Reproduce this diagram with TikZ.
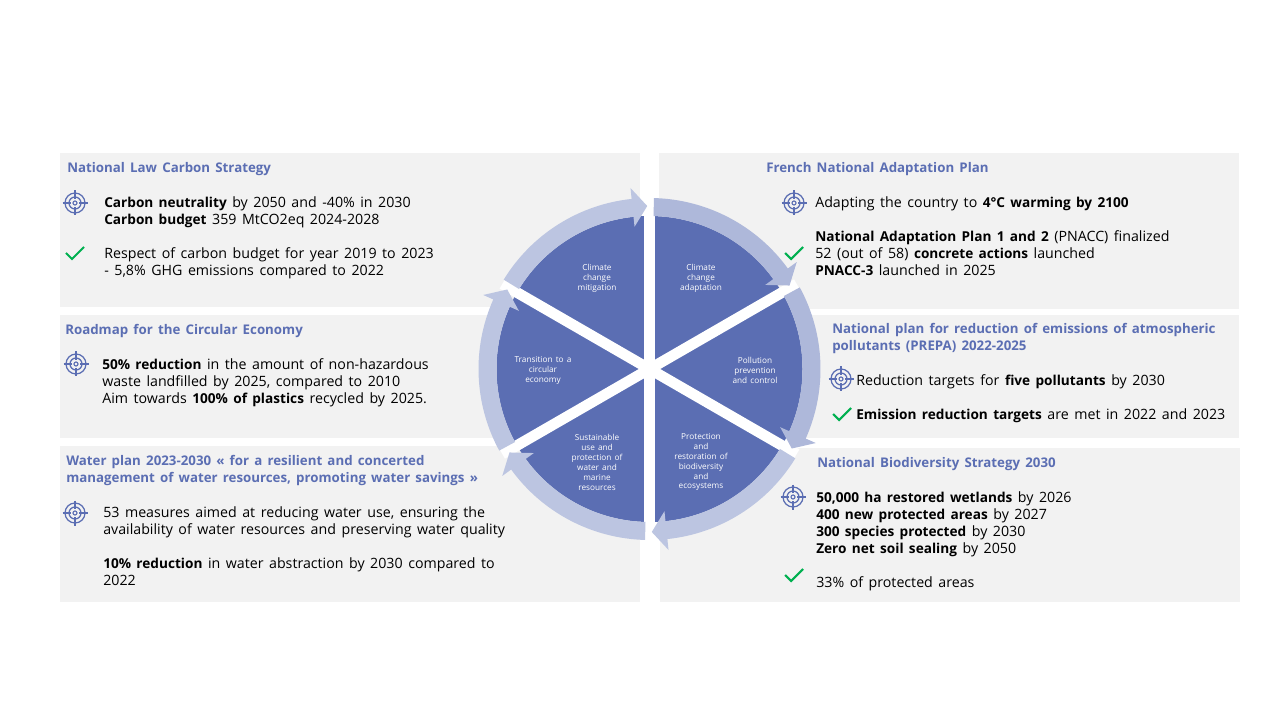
\documentclass[tikz,border=0pt]{standalone}
\usepackage{fontspec}
\setmainfont{Open Sans}[WordSpace=1.5, BoldFeatures={Scale=0.96}]
\usepackage{tikz}

\definecolor{panelgrey}{HTML}{F2F2F2}
\definecolor{wheelblue}{HTML}{5B6EB3}
\definecolor{ringlight}{HTML}{BCC5E1}
\definecolor{ringdark}{HTML}{AEB8DA}
\definecolor{checkgreen}{HTML}{00B050}

\tikzset{
	panelbox/.style={fill=panelgrey, anchor=north west, inner sep=0pt, minimum width=14.5cm},
	titletext/.style={anchor=north west, inner sep=0pt, align=left, text=wheelblue, font=\fontsize{9.85}{12.1}\selectfont\bfseries},
	bodytext/.style={anchor=north west, inner sep=0pt, align=left, text=black, font=\fontsize{10.1}{12.1}\selectfont},
	sectortext/.style={align=center, inner sep=0pt, text=white, font=\fontsize{5.85}{7.1}\selectfont},
	targeticon/.pic={
		\draw[wheelblue, line width=0.9pt] (0,0) circle[radius=10] (0,0) circle[radius=6];
		\draw[wheelblue, line width=0.8pt] (0,0) circle[radius=2];
		\draw[wheelblue, line width=0.8pt] (-12.5,0) -- (-4,0) (4,0) -- (12.5,0) (0,-12.5) -- (0,-4) (0,4) -- (0,12.5);
	},
	checkicon/.pic={
		\draw[checkgreen, line width=1.5pt] (-9,-1) -- (-3,5) -- (9,-7);
	}
}

\begin{document}
\begin{tikzpicture}[x=0.025cm, y=-0.025cm]
	\useasboundingbox (0,0) rectangle (1280,720);
	% Panels:
	\node[panelbox, minimum height=3.85cm](P1) at (60,153){};
	\node[panelbox, minimum height=3.075cm](P2) at (60,315){};
	\node[panelbox, minimum height=3.9cm](P3) at (60,446){};
	\node[panelbox, minimum height=3.9cm](P4) at (659,153){};
	\node[panelbox, minimum height=3.075cm](P5) at (659,315){};
	\node[panelbox, minimum height=3.85cm](P6) at (660,448){};

	% Wheel:
	\begin{scope}[shift={(649.5,369)}, y=0.025cm]
		\fill[wheelblue] (0,0) circle[radius=153];
		\foreach \ang in {30,90,150}{
			\draw[white, line width=10.7*0.025cm] (\ang:170) -- (\ang+180:170);
		}
		\foreach \k/\col in {0/ringdark,1/ringdark,2/ringlight,3/ringlight,4/ringlight,5/ringlight}{
			\fill[\col, rotate=-60*\k] (88.5:171) arc[start angle=88.5, end angle=36, radius=171]
				-- (36:182) -- (30.8:163) -- (36:143) -- (36:153)
				arc[start angle=36, end angle=88.5, radius=153] -- cycle;
		}
	\end{scope}

	% Sector labels:
	\node[sectortext](S1) at (597,278){Climate\\change\\mitigation};
	\node[sectortext](S2) at (701,278){Climate\\change\\adaptation};
	\node[sectortext](S3) at (543,370){Transition to a\\circular\\economy};
	\node[sectortext](S4) at (755,370){Pollution\\prevention\\and control};
	\node[sectortext](S5) at (597,462){Sustainable\\use and\\protection of\\water and\\marine\\resources};
	\node[sectortext](S6) at (701,462){Protection\\and\\restoration of\\biodiversity\\and\\ecosystems};

	% Left side:
	\node[titletext](T1) at (67,162){National Law Carbon Strategy};
	\pic at (75,203){targeticon};
	\node[bodytext](B1) at (104,196){\textbf{Carbon neutrality} by 2050 and -40\% in 2030\\\textbf{Carbon budget} 359 MtCO2eq 2024-2028};
	\pic at (75,254){checkicon};
	\node[bodytext](B2) at (104,247){Respect of carbon budget for year 2019 to 2023\\- 5,8\% GHG emissions compared to 2022};

	\node[titletext](T2) at (65,324){Roadmap for the Circular Economy};
	\pic at (76,364){targeticon};
	\node[bodytext](B3) at (102,358){\textbf{50\% reduction} in the amount of non-hazardous\\waste landfilled by 2025, compared to 2010\\Aim towards \textbf{100\% of plastics} recycled by 2025.};

	\node[titletext](T3) at (66,455){Water plan 2023-2030 « for a resilient and concerted\\management of water resources, promoting water savings »};
	\pic at (75,513){targeticon};
	\node[bodytext](B4) at (103,506){53 measures aimed at reducing water use, ensuring the\\availability of water resources and preserving water quality};
	\node[bodytext](B5) at (103,557){\textbf{10\% reduction} in water abstraction by 2030 compared to\\2022};

	% Right side:
	\node[titletext](T4) at (766,162){French National Adaptation Plan};
	\pic at (794,203){targeticon};
	\node[bodytext](B6) at (815,196){Adapting the country to \textbf{4°C warming by 2100}};
	\pic at (794,254){checkicon};
	\node[bodytext](B7) at (815,230){\textbf{National Adaptation Plan 1 and 2} (PNACC) finalized\\52 (out of 58) \textbf{concrete actions} launched\\\textbf{PNACC-3} launched in 2025};

	\node[titletext](T5) at (832,323){National plan for reduction of emissions of atmospheric\\pollutants (PREPA) 2022-2025};
	\pic at (841,379){targeticon};
	\node[bodytext](B8) at (856,374){Reduction targets for \textbf{five pollutants} by 2030};
	\pic at (842,415){checkicon};
	\node[bodytext](B9) at (856,408){\textbf{Emission reduction targets} are met in 2022 and 2023};

	\node[titletext](T6) at (817,457){National Biodiversity Strategy 2030};
	\pic at (793,497){targeticon};
	\node[bodytext](B10) at (816,491){\textbf{50,000 ha restored wetlands} by 2026\\\textbf{400 new protected areas} by 2027\\\textbf{300 species protected} by 2030\\\textbf{Zero net soil sealing} by 2050};
	\pic at (794,576){checkicon};
	\node[bodytext](B11) at (816,576){33\% of protected areas};
\end{tikzpicture}
\end{document}
